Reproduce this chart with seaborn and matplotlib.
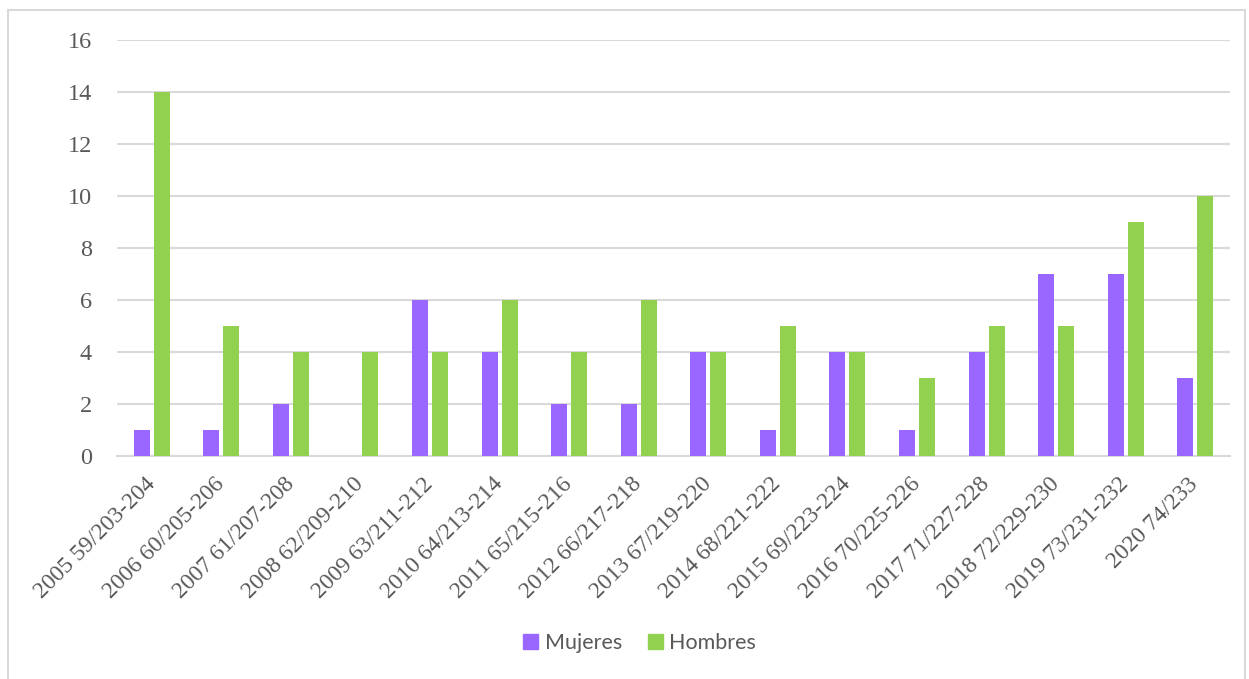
import pandas as pd
import matplotlib.pyplot as plt
import matplotlib.patches as mpatches
import seaborn as sns

# Data
categorias = ["2005 59/203-204", "2006 60/205-206", "2007 61/207-208", "2008 62/209-210",
              "2009 63/211-212", "2010 64/213-214", "2011 65/215-216", "2012 66/217-218",
              "2013 67/219-220", "2014 68/221-222", "2015 69/223-224", "2016 70/225-226",
              "2017 71/227-228", "2018 72/229-230", "2019 73/231-232", "2020 74/233"]
mujeres = [1, 1, 2, 0, 6, 4, 2, 2, 4, 1, 4, 1, 4, 7, 7, 3]
hombres = [14, 5, 4, 4, 4, 6, 4, 6, 4, 5, 4, 3, 5, 5, 9, 10]
yticks = [0, 2, 4, 6, 8, 10, 12, 14, 16]

df = pd.DataFrame({"Periodo": categorias * 2,
                   "Valor": mujeres + hombres,
                   "Sexo": ["Mujeres"] * len(categorias) + ["Hombres"] * len(categorias)})

sns.set_style("white")
plt.rcParams["font.serif"] = ["Liberation Serif", "Times New Roman", "DejaVu Serif"]

fig = plt.figure(figsize=(12.49, 6.79), dpi=100)
ax = fig.add_axes([0.0937, 0.3284, 0.8911, 0.6127])

colores = {"Mujeres": "#9966FF", "Hombres": "#92D050"}
sns.barplot(data=df, x="Periodo", y="Valor", hue="Sexo", palette=colores, saturation=1,
            width=0.575, gap=0.2, ax=ax, legend=False, zorder=3, linewidth=0)

ax.set_ylim(0, 16)
ax.set_xlim(-0.5, len(categorias) - 0.5)
ax.yaxis.grid(True, color="#D9D9D9", linewidth=1.5, zorder=0)
ax.set_axisbelow(True)
for s in ["left", "right", "top"]:
    ax.spines[s].set_visible(False)
ax.spines["bottom"].set_color("#D9D9D9")
ax.spines["bottom"].set_linewidth(1.5)
ax.set_xlabel("")
ax.set_ylabel("")
ax.tick_params(length=0)
ax.tick_params(axis="y", pad=18)
ax.tick_params(axis="x", pad=18)

ax.set_yticks(yticks)
ax.set_yticklabels([str(v) for v in yticks], family="serif", fontsize=17.5, color="#595959")
ax.set_xticks(range(len(categorias)))
ax.set_xticklabels(categorias, rotation=45, ha="right", va="center", rotation_mode="anchor",
                   family="serif", fontsize=17, color="#595959")

handles = [mpatches.Patch(color=colores[k], label=k) for k in ["Mujeres", "Hombres"]]
fig.legend(handles=handles, loc="center", bbox_to_anchor=(0.512, 0.053), ncol=2,
           frameon=False, handlelength=0.7, handleheight=0.7, handletextpad=0.3,
           columnspacing=1.2, prop={"family": "Lato", "size": 15.5},
           labelcolor="#595959")

# outer chart border
fig.patches.append(mpatches.Rectangle((8 / 1249, -0.01), 1237 / 1249, 1 - 10 / 679 + 0.01,
                                      transform=fig.transFigure, fill=False,
                                      edgecolor="#D9D9D9", linewidth=1.5))

fig.savefig("out.png", dpi=100)
